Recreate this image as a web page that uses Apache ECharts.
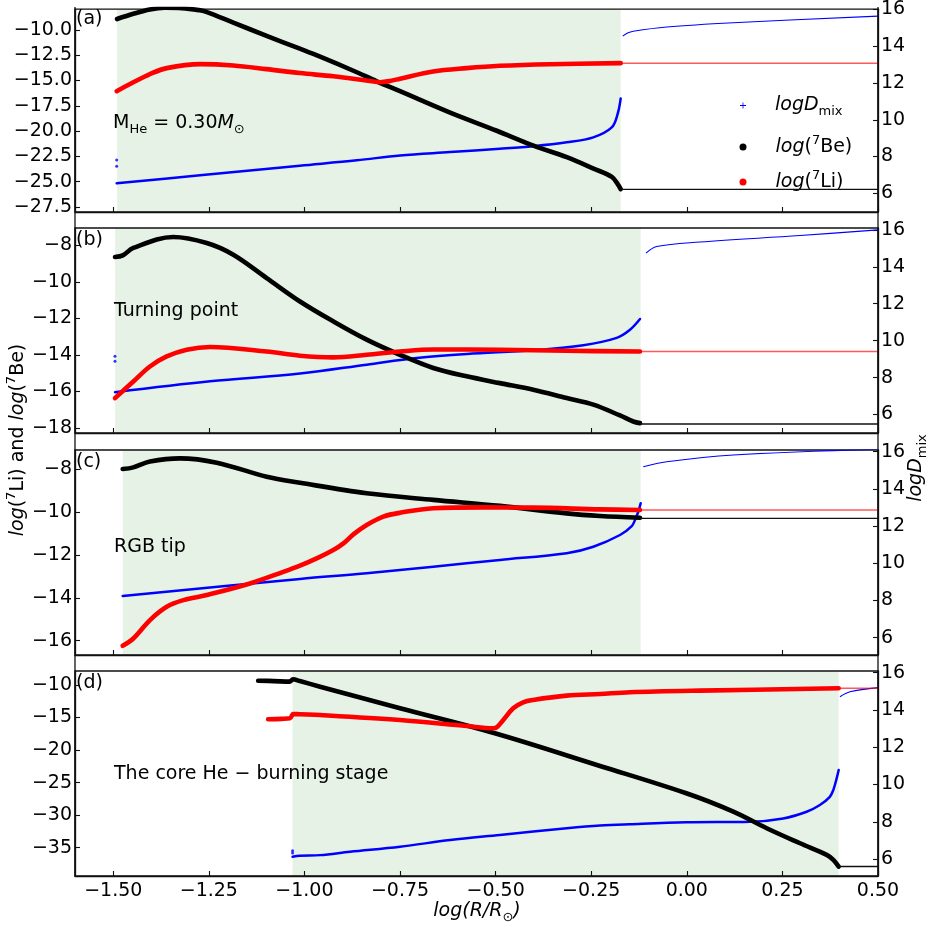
<!DOCTYPE html>
<html>
<head>
<meta charset="utf-8">
<script src="https://cdn.jsdelivr.net/npm/echarts@6/dist/echarts.min.js"></script>
<style>
  html, body { margin: 0; padding: 0; background: #ffffff; }
  #chart { width: 932px; height: 928px; }
</style>
</head>
<body>
<div id="chart"></div>
<script>
// ---- tick labels ----
const xTicks = [-1.5, -1.25, -1.0, -0.75, -0.5, -0.25, 0.0, 0.25, 0.5];
const leftTicksA = [-27.5, -25, -22.5, -20, -17.5, -15, -12.5, -10];
const leftTicksB = [-18, -16, -14, -12, -10, -8];
const leftTicksC = [-16, -14, -12, -10, -8];
const leftTicksD = [-35, -30, -25, -20, -15, -10];
const rightTicks = [6, 8, 10, 12, 14, 16];

// ---- (a) M_He = 0.30 Msun : [log(R/Rsun), value] ----
const shadeA = [-1.490, -0.173];
const beA = [[-1.490,-8.93],[-1.4475,-8.41],[-1.404,-7.98],[-1.365,-7.82],[-1.320,-7.85],[-1.273,-8.07],[-1.255,-8.24],[-1.186,-9.28],[-1.099,-10.59],[-1.012,-11.86],[-0.959,-12.65],[-0.872,-14.04],[-0.811,-15.08],[-0.750,-16.06],[-0.619,-18.18],[-0.497,-19.97],[-0.401,-21.44],[-0.314,-22.58],[-0.244,-23.71],[-0.196,-24.53],[-0.179,-25.35],[-0.173,-25.74]];
const beTailA = [[-0.173,-25.76],[0.5,-25.76]];
const liA = [[-1.491,-16.06],[-1.4475,-15.18],[-1.404,-14.37],[-1.360,-13.78],[-1.273,-13.39],[-1.186,-13.52],[-1.099,-13.88],[-1.012,-14.27],[-0.9245,-14.59],[-0.828,-15.05],[-0.802,-15.17],[-0.776,-15.05],[-0.750,-14.82],[-0.663,-14.11],[-0.576,-13.78],[-0.489,-13.55],[-0.358,-13.39],[-0.173,-13.29]];
const liTailA = [[-0.173,-13.29],[0.5,-13.29]];
const dmixA = [[-1.491,6.54],[-1.273,6.98],[-1.012,7.50],[-0.863,7.79],[-0.750,8.06],[-0.619,8.24],[-0.489,8.42],[-0.4015,8.56],[-0.314,8.77],[-0.2445,9.04],[-0.1964,9.58],[-0.1807,10.33],[-0.1729,11.16]];
const dmixSpikeA = [[-1.491,7.81],[-1.491,7.47]];
const dmixTailA = [[-0.1677,14.55],[-0.155,14.72],[-0.140,14.82],[-0.0526,15.05],[0.1216,15.28],[0.5,15.64]];

// ---- (b) turning point ----
const shadeB = [-1.495, -0.1206];
const beB = [[-1.4954,-8.64],[-1.475,-8.55],[-1.4475,-8.14],[-1.3429,-7.54],[-1.2556,-7.87],[-1.186,-8.51],[-1.0987,-9.79],[-1.0116,-11.07],[-0.9245,-12.16],[-0.8372,-13.16],[-0.7501,-13.99],[-0.663,-14.71],[-0.5756,-15.17],[-0.4886,-15.54],[-0.4015,-15.90],[-0.3141,-16.36],[-0.2445,-16.72],[-0.1747,-17.31],[-0.14,-17.64],[-0.1224,-17.73]];
const beTailB = [[-0.1224,-17.78],[0.5,-17.78]];
const liB = [[-1.4954,-16.36],[-1.4475,-15.45],[-1.404,-14.63],[-1.3602,-14.08],[-1.308,-13.71],[-1.2469,-13.56],[-1.0987,-13.81],[-1.0116,-14.04],[-0.9245,-14.13],[-0.8372,-13.99],[-0.7501,-13.81],[-0.663,-13.70],[-0.4886,-13.71],[-0.3141,-13.77],[-0.1224,-13.81]];
const liTailB = [[-0.1224,-13.81],[0.5,-13.81]];
const dmixB = [[-1.4954,7.21],[-1.2469,7.80],[-1.0116,8.22],[-0.8372,8.70],[-0.7064,9.06],[-0.5756,9.28],[-0.4015,9.48],[-0.2707,9.75],[-0.1833,10.15],[-0.1486,10.59],[-0.1224,11.17]];
const dmixSpikeB = [[-1.4954,9.15],[-1.4954,8.88]];
const dmixTailB = [[-0.1067,14.74],[-0.0788,15.10],[0.0345,15.34],[0.296,15.69],[0.5,16.0]];

// ---- (c) RGB tip ----
const shadeC = [-1.475, -0.1206];
const beC = [[-1.4753,-7.99],[-1.4475,-7.91],[-1.4039,-7.64],[-1.3254,-7.49],[-1.2294,-7.69],[-1.0987,-8.35],[-1.0116,-8.63],[-0.8372,-9.12],[-0.663,-9.43],[-0.4886,-9.71],[-0.3141,-10.06],[-0.227,-10.18],[-0.1224,-10.26]];
const beTailC = [[-0.1224,-10.29],[0.5,-10.29]];
const liC = [[-1.4753,-16.24],[-1.4475,-15.90],[-1.4039,-15.04],[-1.3602,-14.42],[-1.3168,-14.11],[-1.2556,-13.87],[-1.1423,-13.33],[-1.0553,-12.79],[-1.0116,-12.50],[-0.968,-12.16],[-0.9245,-11.77],[-0.898,-11.46],[-0.872,-11.04],[-0.8372,-10.60],[-0.7937,-10.21],[-0.7501,-10.03],[-0.663,-9.82],[-0.5322,-9.78],[-0.4015,-9.79],[-0.227,-9.87],[-0.1224,-9.90]];
const liTailC = [[-0.1224,-9.90],[0.5,-9.90]];
const dmixC = [[-1.4753,8.24],[-1.0116,9.16],[-0.8372,9.46],[-0.663,9.82],[-0.4886,10.18],[-0.3141,10.54],[-0.2445,10.89],[-0.1747,11.52],[-0.144,12.0],[-0.1355,12.33],[-0.127,12.77],[-0.1206,13.23]];
const dmixSpikeC = [];
const dmixTailC = [[-0.1138,15.19],[-0.0526,15.46],[0.1216,15.82],[0.5,16.13]];

// ---- (d) core He-burning stage ----
const shadeD = [-1.031, 0.397];
const beD = [[-1.121,-9.34],[-1.08,-9.40],[-1.038,-9.49],[-1.030,-9.12],[-1.012,-9.39],[-0.959,-10.26],[-0.750,-13.58],[-0.502,-17.42],[-0.227,-22.44],[-0.0013,-26.64],[0.1216,-29.46],[0.2089,-32.01],[0.296,-34.32],[0.3658,-36.11],[0.3831,-36.88],[0.3972,-37.9]];
const beTailD = [[0.3972,-37.9],[0.5,-37.9]];
const liD = [[-1.095,-15.27],[-1.06,-15.2],[-1.038,-15.12],[-1.029,-14.45],[-1.012,-14.5],[-0.959,-14.61],[-0.750,-15.38],[-0.576,-16.30],[-0.506,-16.65],[-0.497,-16.5],[-0.480,-15.38],[-0.454,-13.58],[-0.428,-12.66],[-0.402,-12.30],[-0.314,-11.64],[-0.227,-11.38],[-0.149,-11.12],[0.0345,-10.87],[0.397,-10.51]];
const liTailD = [[0.397,-10.51],[0.5,-10.51]];
const dmixD = [[-1.031,6.12],[-1.012,6.18],[-0.959,6.21],[-0.881,6.39],[-0.750,6.66],[-0.619,7.02],[-0.489,7.29],[-0.314,7.65],[-0.227,7.80],[-0.149,7.87],[-0.0013,7.97],[0.1652,8.0],[0.2523,8.18],[0.3135,8.54],[0.348,8.9],[0.374,9.34],[0.3831,9.70],[0.3919,10.33],[0.3972,10.78]];
const dmixSpikeD = [[-1.031,6.45],[-1.031,6.32]];
const dmixTailD = [[0.4006,14.71],[0.4268,14.98],[0.5,15.2]];

// ---- layout ----
const FONT = 'DejaVu Sans';
const FS = 19;
const PLOT_LEFT = 75, PLOT_RIGHT = 878;
const panels = [
  { top: 7,   tag: '(a)', leftTicks: leftTicksA, leftRange: [-28.0, -7.95], rightRange: [4.98, 16.02], digits: 1,
    be: beA, beTail: beTailA, li: liA, liTail: liTailA, dmix: dmixA, spike: dmixSpikeA, dmixTail: dmixTailA, shade: shadeA },
  { top: 228, tag: '(b)', leftTicks: leftTicksB, leftRange: [-18.27, -7.05], rightRange: [5.0, 16.1], digits: 0,
    be: beB, beTail: beTailB, li: liB, liTail: liTailB, dmix: dmixB, spike: dmixSpikeB, dmixTail: dmixTailB, shade: shadeB },
  { top: 450, tag: '(c)', leftTicks: leftTicksC, leftRange: [-16.67, -7.1], rightRange: [5.07, 16.09], digits: 0,
    be: beC, beTail: beTailC, li: liC, liTail: liTailC, dmix: dmixC, spike: dmixSpikeC, dmixTail: dmixTailC, shade: shadeC },
  { top: 671, tag: '(d)', leftTicks: leftTicksD, leftRange: [-39.35, -7.85], rightRange: [5.09, 16.09], digits: 0,
    be: beD, beTail: beTailD, li: liD, liTail: liTailD, dmix: dmixD, spike: dmixSpikeD, dmixTail: dmixTailD, shade: shadeD }
];
const PANEL_H = 205;

const minus = s => String(s).replace('-', '\u2212');
const spine = { color: '#111', width: 1.3 };
const tickStyle = { color: '#111', width: 1.1 };
const labelBase = { color: '#000', fontFamily: FONT, fontSize: FS };

const grids = [], xAxes = [], yAxes = [], series = [], graphics = [];

panels.forEach((p, i) => {
  grids.push({
    left: PLOT_LEFT, right: 932 - PLOT_RIGHT, top: p.top, height: PANEL_H,
    show: true, borderColor: '#111', borderWidth: 1.3, backgroundColor: 'transparent', containLabel: false
  });
  xAxes.push({
    gridIndex: i, type: 'value', min: -1.6, max: 0.5,
    axisLine: { show: true, onZero: false, lineStyle: spine },
    axisTick: { show: true, inside: true, length: 5, customValues: xTicks, lineStyle: tickStyle },
    axisLabel: Object.assign({ show: i === 3, customValues: xTicks, margin: 6,
      formatter: v => minus(v.toFixed(2)) }, labelBase),
    splitLine: { show: false }
  });
  yAxes.push({
    gridIndex: i, type: 'value', position: 'left', min: p.leftRange[0], max: p.leftRange[1],
    axisLine: { show: true, onZero: false, lineStyle: spine },
    axisTick: { show: true, inside: true, length: 5, customValues: p.leftTicks, lineStyle: tickStyle },
    axisLabel: Object.assign({ customValues: p.leftTicks, margin: 3,
      formatter: v => minus(v.toFixed(p.digits)) }, labelBase),
    splitLine: { show: false }
  });
  yAxes.push({
    gridIndex: i, type: 'value', position: 'right', min: p.rightRange[0], max: p.rightRange[1],
    axisLine: { show: true, onZero: false, lineStyle: spine },
    axisTick: { show: true, inside: true, length: 5, customValues: rightTicks, lineStyle: tickStyle },
    axisLabel: Object.assign({ customValues: rightTicks, margin: 3, formatter: v => String(v) }, labelBase),
    splitLine: { show: false }
  });

  const L = 2 * i, R = 2 * i + 1;
  const common = { xAxisIndex: i, showSymbol: false, symbol: 'none', silent: true, animation: false,
                   smooth: 0.35 };

  // diffusion coefficient (right axis)
  series.push(Object.assign({}, common, {
    type: 'line', name: 'dmix', yAxisIndex: R, data: p.dmix, z: 3,
    lineStyle: { color: '#0000ff', width: 2.5, cap: 'round', join: 'round' },
    itemStyle: { color: '#0000ff' },
    markArea: {
      silent: true, z: -1,
      itemStyle: { color: 'rgba(0,128,0,0.1)', borderWidth: 0 },
      data: [[{ xAxis: p.shade[0] }, { xAxis: p.shade[1] }]]
    }
  }));
  series.push({
    type: 'scatter', name: 'dmixSpike', xAxisIndex: i, yAxisIndex: R, data: p.spike, z: 3,
    symbol: 'circle', symbolSize: 3, itemStyle: { color: '#0000ff' }, silent: true, animation: false
  });
  series.push(Object.assign({}, common, {
    type: 'line', name: 'dmixTail', yAxisIndex: R, data: p.dmixTail, z: 3,
    lineStyle: { color: '#0000ff', width: 1.1 }
  }));
  // 7Be
  series.push(Object.assign({}, common, {
    type: 'line', name: 'be', yAxisIndex: L, data: p.be, z: 4,
    lineStyle: { color: '#000000', width: 4.6, cap: 'round', join: 'round' },
    itemStyle: { color: '#000000' }
  }));
  series.push(Object.assign({}, common, {
    type: 'line', name: 'beTail', yAxisIndex: L, data: p.beTail, z: 4, smooth: false,
    lineStyle: { color: '#111111', width: 1.4 }
  }));
  // 7Li
  series.push(Object.assign({}, common, {
    type: 'line', name: 'li', yAxisIndex: L, data: p.li, z: 5,
    lineStyle: { color: '#ff0000', width: 4.6, cap: 'round', join: 'round' },
    itemStyle: { color: '#ff0000' }
  }));
  series.push(Object.assign({}, common, {
    type: 'line', name: 'liTail', yAxisIndex: L, data: p.liTail, z: 5, smooth: false,
    lineStyle: { color: 'rgba(255,0,0,0.65)', width: 1.5 }
  }));

  // panel tag
  graphics.push({
    type: 'text', x: 76, y: p.top + 12, z: 10,
    style: { text: p.tag, fill: '#000', font: FS + 'px "' + FONT + '"', align: 'left', verticalAlign: 'middle' }
  });
});

// continuous left/right spines through the gaps between panels
graphics.push({ type: 'line', z: 10, shape: { x1: PLOT_LEFT, y1: 7, x2: PLOT_LEFT, y2: 876 }, style: { stroke: '#111', lineWidth: 1.3 } });
graphics.push({ type: 'line', z: 10, shape: { x1: PLOT_RIGHT, y1: 7, x2: PLOT_RIGHT, y2: 876 }, style: { stroke: '#111', lineWidth: 1.3 } });

// rich-text styles for math-like labels
const rich = {
  n:   { fontFamily: FONT, fontSize: FS, lineHeight: 26, fill: '#000', color: '#000' },
  i:   { fontFamily: FONT, fontSize: FS, fontStyle: 'italic', lineHeight: 26, fill: '#000', color: '#000' },
  sub: { fontFamily: FONT, fontSize: 13, lineHeight: 14, verticalAlign: 'bottom', fill: '#000', color: '#000' },
  isub:{ fontFamily: FONT, fontSize: 13, fontStyle: 'italic', lineHeight: 14, verticalAlign: 'bottom', fill: '#000', color: '#000' },
  sup: { fontFamily: FONT, fontSize: 13, lineHeight: 14, verticalAlign: 'top', fill: '#000', color: '#000' },
  sp:  { width: 24 }
};

function richText(x, y, text, extra) {
  return Object.assign({
    type: 'text', x: x, y: y, z: 10,
    style: { text: text, rich: rich, fill: '#000', font: FS + 'px "' + FONT + '"', align: 'left', verticalAlign: 'middle' }
  }, extra || {});
}

// stage annotations
graphics.push(richText(113, 123, '{n|M}{sub|He}{n| = 0.30}{i|M}{sub|\u2299}'));
graphics.push(richText(114, 311, '{n|Turning point}'));
graphics.push(richText(114, 547, '{n|RGB tip}'));
graphics.push(richText(114, 774, '{n|The core He \u2212 burning stage}'));

// axis titles
const xTitle = richText(477, 911, '{i|log(R/R}{isub|\u2299}{i|)}');
xTitle.style.align = 'center';
graphics.push(xTitle);
const yTitle = richText(18, 440, '{i|log}{n|(}{sup|7}{n|Li) and }{i|log}{n|(}{sup|7}{n|Be)}', { rotation: Math.PI / 2 });
yTitle.style.align = 'center';
graphics.push(yTitle);
const y2Title = richText(916, 468, '{i|logD}{sub|mix}', { rotation: Math.PI / 2 });
y2Title.style.align = 'center';
graphics.push(y2Title);

// legend entries in panel (a)
const legendText = {
  dmix: '{sp|}{i|logD}{sub|mix}',
  be: '{sp|}{i|log}{n|(}{sup|7}{n|Be)}',
  li: '{sp|}{i|log}{n|(}{sup|7}{n|Li)}'
};
function legendAt(name, icon, size, cx, cy) {
  return {
    show: true, orient: 'vertical', selectedMode: false,
    left: cx - size / 2, top: cy - 13, padding: 0,
    itemWidth: size, itemHeight: size, itemGap: 0,
    data: [{ name: name, icon: icon }],
    formatter: n => legendText[n],
    textStyle: { color: '#000', fontFamily: FONT, fontSize: FS, rich: rich }
  };
}
const legends = [
  legendAt('dmix', 'path://M0,2.6H6V3.4H0ZM2.6,0H3.4V6H2.6Z', 6, 743, 109),
  legendAt('be', 'circle', 7, 743, 147),
  legendAt('li', 'circle', 7, 743, 182)
];

const chart = echarts.init(document.getElementById('chart'), null, { renderer: 'canvas' });
chart.setOption({
  backgroundColor: '#ffffff',
  animation: false,
  grid: grids,
  xAxis: xAxes,
  yAxis: yAxes,
  legend: legends,
  series: series,
  graphic: { elements: graphics }
});
</script>
</body>
</html>
